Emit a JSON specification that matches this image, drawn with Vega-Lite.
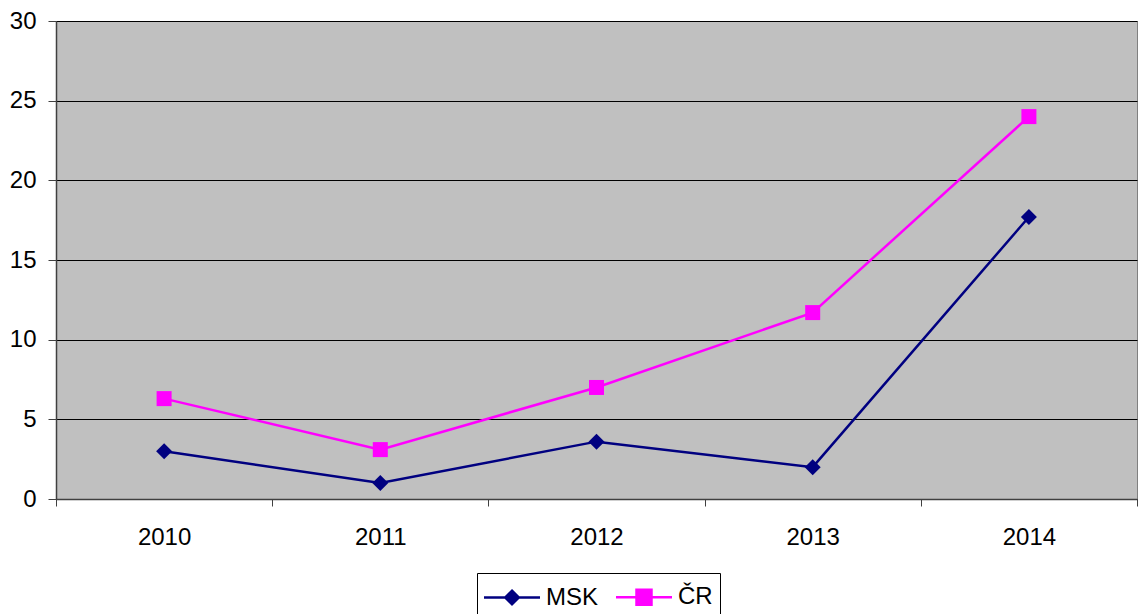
{
  "$schema": "https://vega.github.io/schema/vega-lite/v6.json",
  "autosize": "none",
  "width": 1081,
  "height": 478,
  "padding": {"left": 56, "top": 21, "right": 1, "bottom": 115},
  "background": "white",
  "data": {"values": [
    {"rok": "2010", "serie": "MSK", "hodnota": 3.0},
    {"rok": "2011", "serie": "MSK", "hodnota": 1.0},
    {"rok": "2012", "serie": "MSK", "hodnota": 3.6},
    {"rok": "2013", "serie": "MSK", "hodnota": 2.0},
    {"rok": "2014", "serie": "MSK", "hodnota": 17.7},
    {"rok": "2010", "serie": "ČR", "hodnota": 6.3},
    {"rok": "2011", "serie": "ČR", "hodnota": 3.1},
    {"rok": "2012", "serie": "ČR", "hodnota": 7.0},
    {"rok": "2013", "serie": "ČR", "hodnota": 11.7},
    {"rok": "2014", "serie": "ČR", "hodnota": 24.0}
  ]},
  "config": {
    "view": {"fill": "#c0c0c0", "stroke": "#808080", "strokeWidth": 1},
    "font": "Liberation Sans",
    "axis": {"labelFont": "Liberation Sans", "labelFontSize": 24, "labelColor": "black", "domainColor": "#404040", "tickColor": "#404040", "title": null}
  },
  "encoding": {
    "x": {
      "field": "rok", "type": "nominal",
      "scale": {"type": "band", "paddingInner": 0, "paddingOuter": 0},
      "axis": {"labelAngle": 0, "tickBand": "extent", "tickSize": 7, "labelPadding": 19, "grid": false, "domainWidth": 1.5}
    },
    "y": {
      "field": "hodnota", "type": "quantitative",
      "scale": {"domain": [0, 30], "nice": false},
      "axis": {"values": [0, 5, 10, 15, 20, 25, 30], "tickSize": 8, "labelPadding": 12, "grid": true, "gridColor": "black", "gridWidth": 1, "gridOpacity": 1, "domainWidth": 1.5}
    }
  },
  "layer": [
    {
      "mark": {"type": "line", "strokeWidth": 2.5},
      "encoding": {
        "color": {
          "field": "serie", "type": "nominal",
          "scale": {"domain": ["MSK", "ČR"], "range": ["#000080", "#ff00ff"]},
          "legend": {
            "title": null,
            "orient": "none",
            "direction": "horizontal",
            "legendX": 421,
            "legendY": 552,
            "strokeColor": "black",
            "fillColor": "white",
            "padding": 7,
            "symbolSize": 992,
            "symbolStrokeWidth": 2.5,
            "symbolOffset": 11,
            "labelFontSize": 24,
            "labelFont": "Liberation Sans",
            "labelColor": "black",
            "labelOffset": 17,
            "columnPadding": 12,
            "encode": {
              "symbols": {
                "update": {
                  "shape": {"signal": "datum.value === 'MSK' ? 'M-1.778,0H1.778M0,-0.43L0.43,0L0,0.43L-0.43,0Z' : 'M-1.778,0H1.778M-0.476,-0.476H0.476V0.476H-0.476Z'"},
                  "size": {"value": 992},
                  "fill": {"signal": "datum.value === 'MSK' ? '#000080' : '#ff00ff'"},
                  "stroke": {"signal": "datum.value === 'MSK' ? '#000080' : '#ff00ff'"},
                  "strokeWidth": {"value": 2.5},
                  "fillOpacity": {"value": 1},
                  "opacity": {"value": 1}
                }
              }
            }
          }
        }
      }
    },
    {
      "transform": [{"filter": "datum.serie === 'MSK'"}],
      "mark": {"type": "point", "filled": true, "opacity": 1, "shape": "diamond", "size": 256},
      "encoding": {
        "color": {"field": "serie", "type": "nominal", "legend": null}
      }
    },
    {
      "transform": [{"filter": "datum.serie === 'ČR'"}],
      "mark": {"type": "point", "filled": true, "opacity": 1, "shape": "square", "size": 225},
      "encoding": {
        "color": {"field": "serie", "type": "nominal", "legend": null}
      }
    }
  ]
}
